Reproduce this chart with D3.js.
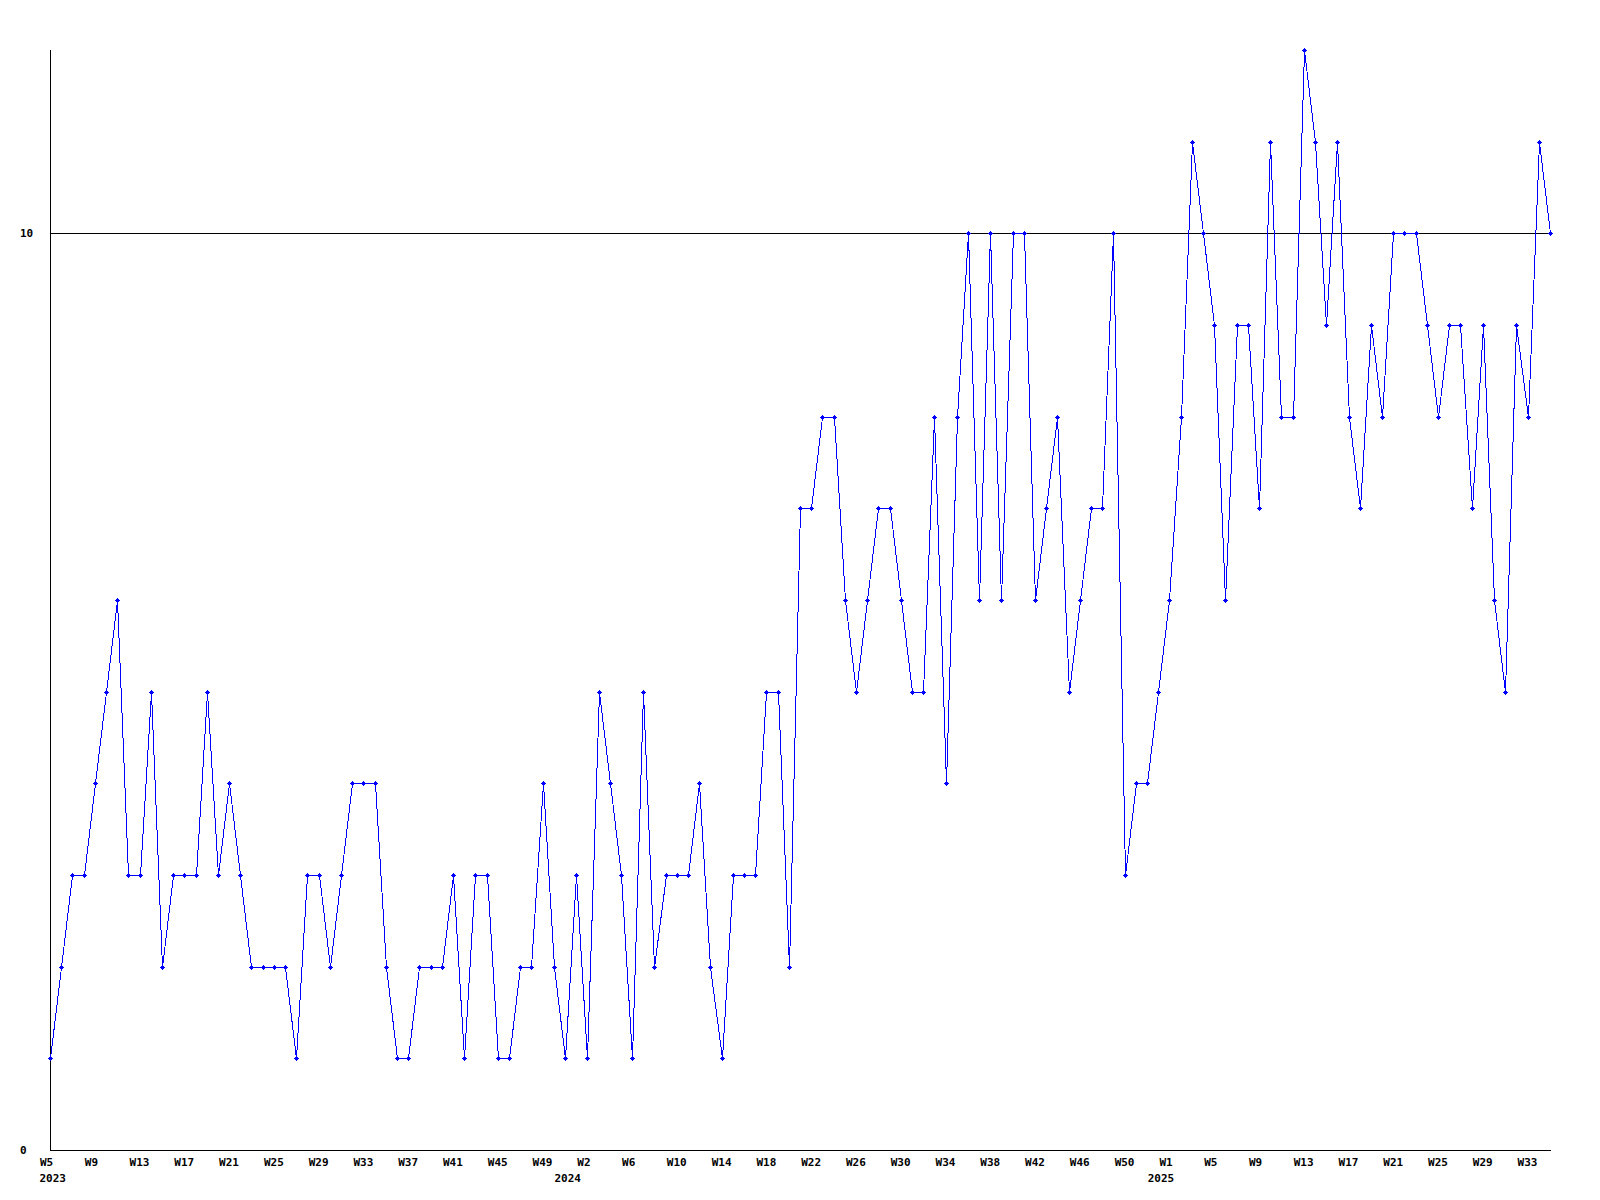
<!DOCTYPE html>
<html>
<head>
<meta charset="utf-8">
<script src="https://cdn.jsdelivr.net/npm/d3@7"></script>
<style>
  html, body { margin: 0; padding: 0; background: #ffffff; }
  svg { display: block; }
  text { font-family: "DejaVu Sans Mono", "Liberation Mono", monospace; font-size: 11px; font-weight: bold; fill: #000; }
</style>
</head>
<body>
<script>
// Weekly values, 2023 W5 … 2025 W35 (one per week)
const values = [
  1, 2, 3, 3, 4, 5, 6, 3, 3, 5,
  2, 3, 3, 3, 5, 3, 4, 3, 2, 2,
  2, 2, 1, 3, 3, 2, 3, 4, 4, 4,
  2, 1, 1, 2, 2, 2, 3, 1, 3, 3,
  1, 1, 2, 2, 4, 2, 1, 3, 1, 5,
  4, 3, 1, 5, 2, 3, 3, 3, 4, 2,
  1, 3, 3, 3, 5, 5, 2, 7, 7, 8,
  8, 6, 5, 6, 7, 7, 6, 5, 5, 8,
  4, 8, 10, 6, 10, 6, 10, 10, 6, 7,
  8, 5, 6, 7, 7, 10, 3, 4, 4, 5,
  6, 8, 11, 10, 9, 6, 9, 9, 7, 11,
  8, 8, 12, 11, 9, 11, 8, 7, 9, 8,
  10, 10, 10, 9, 8, 9, 9, 7, 9, 6,
  5, 9, 8, 11, 10
];

// x-axis tick labels (one every 4 weeks)
const weekTickLabels = [
  "W5","W9","W13","W17","W21","W25","W29","W33","W37","W41","W45","W49",
  "W2","W6","W10","W14","W18","W22","W26","W30","W34","W38","W42","W46","W50",
  "W1","W5","W9","W13","W17","W21","W25","W29","W33"
];
const yearLabels = ["2023", "2024", "2025"];
const yearPositions = [0, 46, 99];
const yTickValues = [0, 10];
const referenceLineValue = 10;
const yMax = 12;

const W = 1600, H = 1200;
const svg = d3.select("body").append("svg").attr("width", W).attr("height", H);
svg.append("rect").attr("width", W).attr("height", H).attr("fill", "#fff");

const x = d3.scaleLinear().domain([0, values.length - 1]).range([50, 1550]);
const y = d3.scaleLinear().domain([0, yMax]).range([1150, 50]);
const px = v => Math.round(x(v)) + 0.5;
const py = v => Math.round(y(v)) + 0.5;

// reference line at 10
svg.append("line")
  .attr("x1", 50).attr("x2", 1551)
  .attr("y1", py(referenceLineValue)).attr("y2", py(referenceLineValue))
  .attr("stroke", "#000").attr("stroke-width", 1)
  .attr("shape-rendering", "crispEdges");

// x axis
const tickIdx = weekTickLabels.map((d, i) => i * 4);
const xAxis = d3.axisBottom(x).tickValues(tickIdx)
  .tickFormat((d, i) => weekTickLabels[i]).tickSize(0).tickSizeOuter(0);
const gx = svg.append("g").attr("transform", "translate(0,1150.5)").call(xAxis);
gx.select(".domain").attr("stroke", "#000").attr("shape-rendering", "crispEdges")
  .attr("d", "M50.5,0H1551");
gx.selectAll("text")
  .attr("text-anchor", "start").attr("x", -10.5).attr("y", 15.5).attr("dy", null)
  .attr("font-family", null).attr("font-size", null);
gx.attr("font-family", null).attr("font-size", null);

// year labels
svg.append("g").selectAll("text").data(yearLabels).join("text")
  .attr("x", (d, i) => x(yearPositions[i]) - 10.5)
  .attr("y", 1181.5)
  .text(d => d);

// y axis
const yAxis = d3.axisLeft(y).tickValues(yTickValues).tickFormat(d3.format("d"))
  .tickSize(0).tickSizeOuter(0);
const gy = svg.append("g").attr("transform", "translate(50.5,0)").call(yAxis);
gy.select(".domain").attr("stroke", "#000").attr("shape-rendering", "crispEdges")
  .attr("d", "M0,50V1151");
gy.selectAll("text").attr("text-anchor", "start").attr("x", -30.5).attr("dy", "0.32em");
gy.attr("font-family", null).attr("font-size", null);

// data line
const line = d3.line().x((d, i) => px(i)).y(d => py(d));
svg.append("path").datum(values)
  .attr("d", line)
  .attr("fill", "none").attr("stroke", "#0000ff").attr("stroke-width", 1)
  .attr("shape-rendering", "crispEdges");

// markers (small plus)
const markerPath = "M-2,0h5v1h-5z M0,-2h1v5h-1z M-1,-1h3v3h-3z";
svg.append("g").selectAll("path").data(values).join("path")
  .attr("transform", (d, i) => `translate(${Math.round(x(i))},${Math.round(y(d))})`)
  .attr("d", markerPath)
  .attr("fill", "#0000ff")
  .attr("shape-rendering", "crispEdges");
</script>
</body>
</html>
